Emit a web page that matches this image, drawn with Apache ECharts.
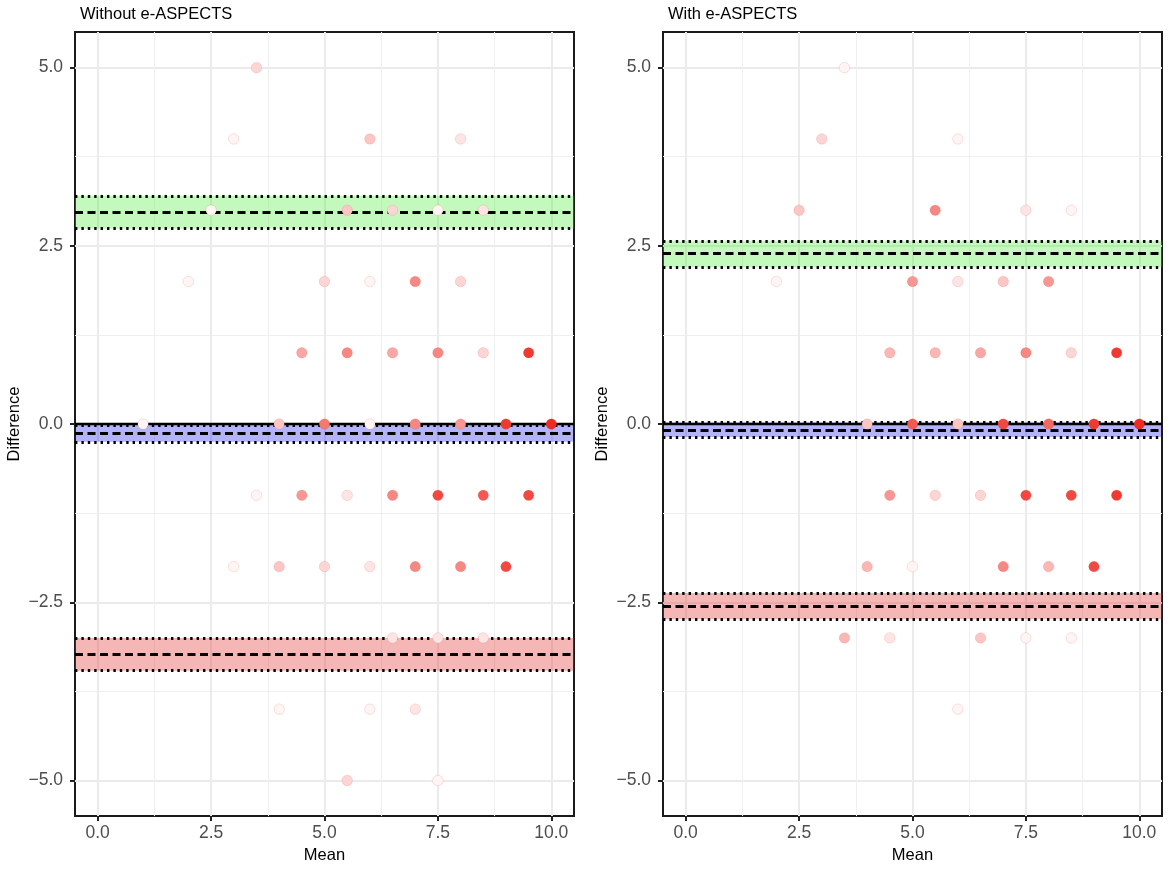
<!DOCTYPE html>
<html>
<head>
<meta charset="utf-8">
<script src="https://cdn.jsdelivr.net/npm/echarts@6.0.0/dist/echarts.min.js"></script>
<style>
html,body{margin:0;padding:0;background:#fff;}
#chart{width:1170px;height:869px;}
</style>
</head>
<body>
<div id="chart"></div>
<script>
// ---------- data ----------
const panelTitles = ['Without e-ASPECTS', 'With e-ASPECTS'];
const xTicks = [0, 2.5, 5, 7.5, 10];
const xMinorTicks = [1.25, 3.75, 6.25, 8.75];
const yTicks = [-5, -2.5, 0, 2.5, 5];
const yMinorTicks = [-3.75, -1.25, 1.25, 3.75];
const xRange = [-0.5, 10.5];
const yRange = [-5.5, 5.5];

// [mean, difference, number of overlapping cases]
const withoutPoints = [
  [3.5, 5, 3],
  [3, 4, 1], [6, 4, 4], [8, 4, 2],
  [2.5, 3, 1], [5.5, 3, 4], [6.5, 3, 3], [7.5, 3, 1], [8.5, 3, 2],
  [2, 2, 1], [5, 2, 3], [6, 2, 1], [7, 2, 8], [8, 2, 3],
  [4.5, 1, 6], [5.5, 1, 8], [6.5, 1, 6], [7.5, 1, 8], [8.5, 1, 3], [9.5, 1, 13],
  [1, 0, 1], [4, 0, 4], [5, 0, 9], [6, 0, 1], [7, 0, 8], [8, 0, 7], [9, 0, 13], [10, 0, 14],
  [3.5, -1, 1], [4.5, -1, 7], [5.5, -1, 2], [6.5, -1, 8], [7.5, -1, 12], [8.5, -1, 11], [9.5, -1, 12],
  [3, -2, 1], [4, -2, 4], [5, -2, 3], [6, -2, 2], [7, -2, 8], [8, -2, 8], [9, -2, 12],
  [6.5, -3, 2], [7.5, -3, 2], [8.5, -3, 2],
  [4, -4, 1], [6, -4, 1], [7, -4, 2],
  [5.5, -5, 3], [7.5, -5, 1]
];
const withPoints = [
  [3.5, 5, 1],
  [3, 4, 3], [6, 4, 1],
  [2.5, 3, 4], [5.5, 3, 8], [7.5, 3, 2], [8.5, 3, 1],
  [2, 2, 1], [5, 2, 7], [6, 2, 2], [7, 2, 4], [8, 2, 7],
  [4.5, 1, 5], [5.5, 1, 5], [6.5, 1, 6], [7.5, 1, 8], [8.5, 1, 3], [9.5, 1, 13],
  [4, 0, 4], [5, 0, 11], [6, 0, 4], [7, 0, 12], [8, 0, 10], [9, 0, 13], [10, 0, 14],
  [4.5, -1, 7], [5.5, -1, 3], [6.5, -1, 3], [7.5, -1, 12], [8.5, -1, 12], [9.5, -1, 13],
  [4, -2, 5], [5, -2, 1], [7, -2, 8], [8, -2, 5], [9, -2, 12],
  [3.5, -3, 5], [4.5, -3, 2], [6.5, -3, 4], [7.5, -3, 1], [8.5, -3, 1],
  [6, -4, 1]
];

// [lower CI, estimate, upper CI]
const withoutBias = [-0.25, -0.13, -0.01];
const withoutUpperLoA = [2.74, 2.97, 3.20];
const withoutLowerLoA = [-3.46, -3.23, -3.00];
const withBias = [-0.18, -0.08, 0.02];
const withUpperLoA = [2.20, 2.39, 2.57];
const withLowerLoA = [-2.74, -2.55, -2.37];

// ---------- styling / layout ----------
const FONT = '"Liberation Sans", Arial, sans-serif';
const gridsLayout = [
  { left: 75, top: 32, width: 499, height: 786 },
  { left: 663, top: 32, width: 499, height: 786 }
];
const fmt = v => v.toFixed(1).replace('-', '\u2212');

const panels = [
  { points: withoutPoints, bias: withoutBias, upper: withoutUpperLoA, lower: withoutLowerLoA },
  { points: withPoints, bias: withBias, upper: withUpperLoA, lower: withLowerLoA }
];

const grid = gridsLayout.map(g => Object.assign({
  show: true, borderColor: '#1a1a1a', borderWidth: 2, backgroundColor: '#fff', containLabel: false
}, g));

const xAxis = [], yAxis = [], series = [], title = [];

panels.forEach((p, i) => {
  title.push({
    text: panelTitles[i], left: gridsLayout[i].left, top: 1,
    textStyle: { fontSize: 16.5, fontWeight: 'normal', color: '#000', fontFamily: FONT }
  });
  // major x
  xAxis.push({
    type: 'value', gridIndex: i, min: xRange[0], max: xRange[1], position: 'bottom',
    axisLine: { show: false, onZero: false },
    axisTick: { show: true, customValues: xTicks, length: 5, lineStyle: { color: '#222', width: 2 } },
    axisLabel: { customValues: xTicks, formatter: fmt, color: '#4D4D4D', fontSize: 17.5, margin: 8, fontFamily: FONT },
    splitLine: { show: true, lineStyle: { color: '#EBEBEB', width: 2 } },
    name: 'Mean', nameLocation: 'middle', nameGap: 30,
    nameTextStyle: { fontSize: 16.5, color: '#000', fontFamily: FONT }
  });
  // minor x (grid lines only)
  xAxis.push({
    type: 'value', gridIndex: i, min: xRange[0], max: xRange[1], position: 'top',
    axisLine: { show: false, onZero: false },
    axisTick: { show: false, customValues: xMinorTicks },
    axisLabel: { show: false },
    splitLine: { show: true, lineStyle: { color: '#EFEFEF', width: 1 } }
  });
  // major y
  yAxis.push({
    type: 'value', gridIndex: i, min: yRange[0], max: yRange[1], position: 'left',
    axisLine: { show: false, onZero: false },
    axisTick: { show: true, customValues: yTicks, length: 5, lineStyle: { color: '#222', width: 2 } },
    axisLabel: { customValues: yTicks, formatter: fmt, color: '#4D4D4D', fontSize: 17.5, margin: 12, fontFamily: FONT },
    splitLine: { show: true, lineStyle: { color: '#EBEBEB', width: 2 } },
    name: 'Difference', nameLocation: 'middle', nameGap: 52, nameRotate: 90,
    nameTextStyle: { fontSize: 16.5, color: '#000', fontFamily: FONT }
  });
  // minor y
  yAxis.push({
    type: 'value', gridIndex: i, min: yRange[0], max: yRange[1], position: 'right',
    axisLine: { show: false, onZero: false },
    axisTick: { show: false, customValues: yMinorTicks },
    axisLabel: { show: false },
    splitLine: { show: true, lineStyle: { color: '#EFEFEF', width: 1 } }
  });

  const dashed = { color: '#000', width: 2.8, type: [8, 4.5] };
  const dotted = { color: '#000', width: 3, type: [2.4, 4] };
  const band = (ci, color) => [
    { yAxis: ci[0], itemStyle: { color: color } },
    { yAxis: ci[2], itemStyle: { color: color } }
  ];
  const hl = (v, style) => ({ yAxis: v, lineStyle: style });

  series.push({
    type: 'scatter',
    xAxisIndex: 2 * i, yAxisIndex: 2 * i,
    data: p.points,
    symbolSize: 10.5,
    z: 5,
    itemStyle: { borderColor: 'rgba(225,70,60,0.16)', borderWidth: 1, opacity: 1 },
    emphasis: { disabled: true },
    markArea: {
      silent: true, z: 1,
      data: [
        band(p.upper, 'rgba(60,235,40,0.30)'),
        band(p.bias, 'rgba(10,10,245,0.31)'),
        band(p.lower, 'rgba(225,40,40,0.34)')
      ]
    },
    markLine: {
      silent: true, z: 2, symbol: ['none', 'none'], label: { show: false },
      emphasis: { disabled: true },
      data: [
        hl(0, { color: '#000', width: 2.4, type: 'solid' }),
        hl(p.upper[1], dashed), hl(p.upper[0], dotted), hl(p.upper[2], dotted),
        hl(p.bias[1], dashed), hl(p.bias[0], dotted), hl(p.bias[2], dotted),
        hl(p.lower[1], dashed), hl(p.lower[0], dotted), hl(p.lower[2], dotted)
      ]
    }
  });
});

const chart = echarts.init(document.getElementById('chart'), null, { renderer: 'canvas' });
chart.setOption({
  animation: false,
  backgroundColor: '#fff',
  title: title,
  grid: grid,
  xAxis: xAxis,
  yAxis: yAxis,
  visualMap: {
    show: false, type: 'continuous', seriesIndex: [0, 1], dimension: 2,
    min: 1, max: 14,
    inRange: { color: ['#FFF5F5', '#EE2A22'] }
  },
  series: series
});
</script>
</body>
</html>
